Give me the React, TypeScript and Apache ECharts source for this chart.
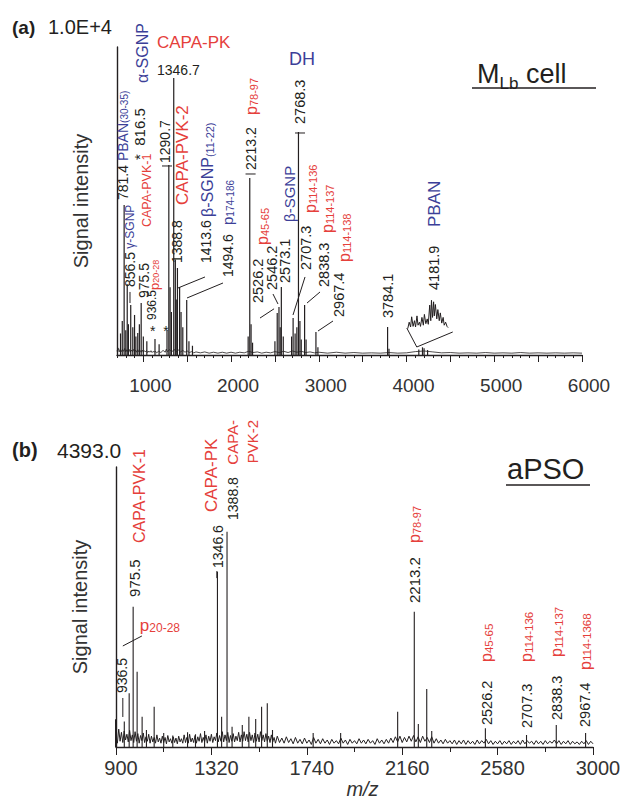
import React, { useEffect, useRef } from "react";
import * as echarts from "echarts";

const RED = "#e5403b";
const BLUE = "#3c3f98";
const INK = "#231f20";
const FONT = "'Liberation Sans', Arial, Helvetica, sans-serif";
const COLORS: Record<string, string> = { k: INK, r: RED, b: BLUE };

// ---------- Panel (a): M_Lb cell ----------
const xRangeA = [700, 6000];
const yMaxA = 10000;
const labelTicksA = [1000, 2000, 3000, 4000, 5000, 6000];
const majorTicksA = [1000, 1500, 2000, 2500, 3000, 3500, 4000, 4500, 5000, 5500, 6000];

const peaksA: [number, number][] = [
  [740, 700], [760, 1100], [781.4, 4870], [800, 800], [816.5, 2300], [830, 1000], [856.5, 1620],
  [880, 900], [900, 1300], [915, 600], [936.5, 714], [955, 1000], [975.5, 1688], [1000, 600],
  [1040, 450], [1133, 520], [1180, 350], [1270, 800], [1290.7, 6170], [1305, 2200], [1320, 1400],
  [1346.7, 8994], [1365, 3100], [1375, 1800], [1388.8, 2825], [1413.6, 2208], [1430, 1400],
  [1450, 900], [1494.6, 1786], [1520, 450], [1560, 300], [2195, 600], [2213.2, 5747], [2228, 1000],
  [2245, 400], [2500, 450], [2526.2, 1364], [2546.2, 1559], [2560, 900], [2573.1, 2208], [2595, 600],
  [2690, 600], [2707.3, 1201], [2730, 700], [2750, 900], [2768.3, 7241], [2785, 1100], [2800, 500],
  [2838.3, 1623], [2855, 500], [2967.4, 747], [2990, 250], [3784.1, 909], [3800, 200],
  [4140, 180], [4181.9, 250], [4200, 220], [4240, 160],
];

const noiseA: [number, number][] = [
  [700, 120], [712, 230], [725, 100], [737, 200], [750, 110], [762, 180], [775, 120], [787, 210],
  [800, 100], [812, 170], [825, 110], [837, 190], [850, 90], [862, 160], [875, 110], [887, 180],
  [900, 100], [912, 160], [925, 90], [937, 170], [950, 100], [962, 150], [975, 90], [987, 160],
  [1000, 90], [1012, 140], [1025, 100], [1037, 150], [1050, 80], [1062, 130], [1075, 90],
  [1087, 140], [1100, 80], [1112, 120], [1125, 90], [1137, 130], [1150, 70], [1175, 120],
  [1200, 80], [1225, 150], [1250, 90], [1262, 190], [1275, 110], [1300, 170], [1325, 100],
  [1350, 180], [1375, 110], [1400, 160], [1425, 100], [1450, 150], [1475, 90], [1500, 130],
  [1525, 80], [1550, 110], [1575, 70], [1600, 100], [1650, 70], [1700, 100], [1750, 60],
  [1800, 90], [1850, 60], [1900, 90], [1950, 60], [2000, 90], [2050, 60], [2100, 90],
  [2150, 70], [2200, 120], [2250, 80], [2300, 100], [2350, 60], [2400, 90], [2450, 70],
  [2500, 110], [2550, 80], [2600, 120], [2650, 80], [2700, 130], [2750, 90], [2800, 120],
  [2850, 80], [2900, 100], [2950, 70], [3000, 90], [3100, 60], [3200, 90], [3300, 60],
  [3400, 80], [3500, 60], [3600, 70], [3700, 60], [3800, 80], [3900, 60], [4000, 70],
  [4100, 110], [4200, 130], [4300, 100], [4400, 70], [4500, 80], [4600, 60], [4700, 70],
  [4800, 60], [4900, 80], [5000, 60], [5100, 70], [5200, 60], [5300, 80], [5400, 60],
  [5500, 70], [5600, 60], [5700, 70], [5800, 60], [5900, 70], [6000, 60],
];

// magnified PBAN trace (inset), relative intensity 0-100
const insetRange = [4120, 4250];
const insetA: [number, number][] = [
  [4125, 5], [4129, 26], [4133, 10], [4136, 44], [4140, 12], [4144, 31], [4147, 10], [4151, 47],
  [4154, 16], [4158, 26], [4161, 12], [4165, 42], [4169, 16], [4172, 52], [4176, 21], [4180, 37],
  [4183, 19], [4187, 83], [4190, 31], [4192, 99], [4195, 42], [4198, 94], [4200, 47], [4203, 85],
  [4207, 37], [4210, 68], [4214, 31], [4217, 57], [4221, 23], [4225, 42], [4228, 16], [4232, 26],
  [4236, 12], [4239, 8],
];

// ---------- Panel (b): aPSO ----------
const xRangeB = [900, 3000];
const yMaxB = 4393.0;
const labelTicksB = [900, 1320, 1740, 2160, 2580, 3000];
const minorTicksB = [900, 1110, 1320, 1530, 1740, 1950, 2160, 2370, 2580, 2790, 3000];

const peaksB: [number, number][] = [
  [898, 435], [936.5, 400], [958, 842], [975.5, 2201], [993, 1181], [1015, 475], [1034, 267],
  [1068, 632], [1110, 220], [1150, 180], [1215, 230], [1250, 200], [1290, 250], [1346.6, 2750],
  [1365, 475], [1388.8, 3378], [1411, 319], [1456, 345], [1485, 475], [1515, 440], [1541, 632],
  [1566, 685], [1589, 267], [1768, 220], [1889, 220], [2140, 554], [2213.2, 2123], [2231, 361],
  [2268, 910], [2290, 250], [2526.2, 293], [2707.3, 188], [2838.3, 345], [2967.4, 220],
];

const noiseB: [number, number][] = [
  [900, 150], [906, 60], [912, 280], [918, 90], [924, 230], [930, 70], [936, 250], [942, 110],
  [948, 200], [954, 80], [960, 260], [966, 100], [972, 190], [978, 70], [984, 240], [990, 90],
  [996, 210], [1002, 60], [1008, 180], [1014, 100], [1020, 220], [1026, 70], [1032, 160],
  [1038, 90], [1044, 200], [1050, 60], [1056, 170], [1062, 80], [1068, 150], [1074, 60],
  [1080, 190], [1086, 80], [1092, 140], [1098, 60], [1104, 170], [1110, 70], [1116, 150],
  [1122, 50], [1128, 180], [1134, 80], [1140, 130], [1146, 60], [1152, 160], [1158, 70],
  [1164, 140], [1170, 50], [1176, 170], [1182, 80], [1188, 130], [1194, 60], [1200, 190],
  [1206, 70], [1212, 150], [1218, 60], [1224, 200], [1230, 80], [1236, 140], [1242, 70],
  [1248, 180], [1254, 60], [1260, 160], [1266, 90], [1272, 210], [1278, 70], [1284, 150],
  [1290, 80], [1296, 190], [1302, 60], [1308, 170], [1314, 90], [1320, 200], [1326, 70],
  [1332, 160], [1338, 100], [1344, 220], [1350, 80], [1356, 180], [1362, 90], [1368, 240],
  [1374, 80], [1380, 190], [1386, 100], [1392, 230], [1398, 70], [1404, 180], [1410, 90],
  [1416, 210], [1422, 80], [1428, 170], [1434, 100], [1440, 230], [1446, 80], [1452, 190],
  [1458, 90], [1464, 240], [1470, 100], [1476, 200], [1482, 80], [1488, 230], [1494, 100],
  [1500, 190], [1506, 70], [1512, 220], [1518, 90], [1524, 200], [1530, 80], [1536, 240],
  [1542, 100], [1548, 190], [1554, 80], [1560, 210], [1566, 90], [1572, 170], [1578, 70],
  [1584, 190], [1590, 80], [1596, 150], [1602, 60], [1610, 170], [1620, 70], [1630, 140],
  [1640, 60], [1650, 160], [1660, 70], [1670, 130], [1680, 50], [1690, 150], [1700, 60],
  [1710, 120], [1720, 50], [1730, 140], [1740, 60], [1750, 110], [1760, 40], [1770, 150],
  [1780, 60], [1790, 120], [1800, 50], [1810, 130], [1820, 60], [1830, 110], [1840, 40],
  [1850, 120], [1860, 60], [1870, 100], [1880, 50], [1890, 140], [1900, 60], [1910, 110],
  [1920, 40], [1930, 120], [1940, 60], [1950, 100], [1960, 50], [1970, 130], [1980, 60],
  [1990, 110], [2000, 50], [2010, 120], [2020, 60], [2030, 100], [2040, 40], [2050, 130],
  [2060, 60], [2070, 110], [2080, 50], [2090, 120], [2100, 60], [2110, 140], [2120, 70],
  [2130, 160], [2140, 80], [2150, 170], [2160, 70], [2170, 150], [2180, 80], [2190, 170],
  [2200, 90], [2210, 180], [2220, 80], [2230, 160], [2240, 70], [2250, 170], [2260, 90],
  [2270, 150], [2280, 70], [2290, 160], [2300, 60], [2310, 130], [2320, 60], [2330, 110],
  [2340, 50], [2350, 120], [2360, 60], [2370, 100], [2380, 50], [2390, 110], [2400, 40],
  [2410, 100], [2420, 50], [2430, 110], [2440, 40], [2450, 100], [2460, 50], [2470, 90],
  [2480, 40], [2490, 110], [2500, 50], [2510, 100], [2520, 60], [2530, 120], [2540, 50],
  [2550, 100], [2560, 40], [2570, 90], [2580, 50], [2590, 100], [2600, 40], [2610, 90],
  [2620, 50], [2630, 100], [2640, 40], [2650, 90], [2660, 50], [2670, 100], [2680, 40],
  [2690, 110], [2700, 50], [2710, 100], [2720, 60], [2730, 90], [2740, 40], [2750, 100],
  [2760, 50], [2770, 90], [2780, 40], [2790, 100], [2800, 50], [2810, 90], [2820, 60],
  [2830, 110], [2840, 50], [2850, 100], [2860, 40], [2870, 90], [2880, 50], [2890, 100],
  [2900, 40], [2910, 90], [2920, 50], [2930, 80], [2940, 40], [2950, 90], [2960, 50],
  [2970, 100], [2980, 40], [2990, 90], [3000, 50],
];

// ---------- annotation layout (anchored in data units) ----------
type Part = [string, string, number, number?];
type Ann = { mz: number; at: number; rot: number; end?: number; parts: Part[] };

const annA: Ann[] = [
  { mz: 985, at: 8832, rot: 1, parts: [["α-SGNP", "b", 16]] },
  { mz: 1156, at: 10131, rot: 0, parts: [["CAPA-PK", "r", 17]] },
  { mz: 1156, at: 9254, rot: 0, parts: [["1346.7", "k", 14]] },
  { mz: 2661, at: 9611, rot: 0, parts: [["DH", "b", 18]] },
  { mz: 768, at: 5033, rot: 1, parts: [["781.4", "k", 14], [" PBAN", "b", 14], ["(30-35)", "b", 10, 1]] },
  { mz: 962, at: 6332, rot: 1, parts: [["*  816.5", "k", 15]] },
  { mz: 1247, at: 6234, rot: 1, parts: [["1290.7", "k", 14]] },
  { mz: 1452, at: 4870, rot: 1, parts: [["CAPA-PVK-2", "r", 17]] },
  { mz: 1737, at: 4481, rot: 1, parts: [["β-SGNP", "b", 16], ["(11-22)", "b", 11, 1]] },
  { mz: 1714, at: 2987, rot: 1, parts: [["1413.6", "k", 14]] },
  { mz: 1965, at: 4221, rot: 1, parts: [["p", "b", 15], ["174-186", "b", 10, 1]] },
  { mz: 1965, at: 2533, rot: 1, parts: [["1494.6", "k", 14]] },
  { mz: 848, at: 2208, rot: 1, parts: [["856.5", "k", 14], [" γ-SGNP", "b", 12]] },
  { mz: 1042, at: 4156, rot: 1, parts: [["CAPA-PVK-1", "r", 12.5]] },
  { mz: 1008, at: 1851, rot: 1, parts: [["975.5", "k", 14]] },
  { mz: 1122, at: 2111, rot: 1, parts: [["p", "r", 13], ["20-28", "r", 9, 1]] },
  { mz: 1099, at: 1136, rot: 1, parts: [["936.5", "k", 12]] },
  { mz: 1076, at: 779, rot: 0, parts: [["*  *", "k", 14]] },
  { mz: 1384, at: 2987, rot: 1, parts: [["1388.8", "k", 14]] },
  { mz: 2228, at: 7793, rot: 1, parts: [["p", "r", 16], ["78-97", "r", 11, 1]] },
  { mz: 2228, at: 6007, rot: 1, parts: [["2213.2", "k", 14]] },
  { mz: 2786, at: 7501, rot: 1, parts: [["2768.3", "k", 14.5]] },
  { mz: 2353, at: 3572, rot: 1, parts: [["p", "r", 16], ["45-65", "r", 11, 1]] },
  { mz: 2307, at: 1688, rot: 1, parts: [["2526.2", "k", 14.5]] },
  { mz: 2467, at: 2111, rot: 1, parts: [["2546.2", "k", 14.5]] },
  { mz: 2615, at: 2338, rot: 1, parts: [["2573.1", "k", 14.5]] },
  { mz: 2661, at: 4319, rot: 1, parts: [["β-SGNP", "b", 15]] },
  { mz: 2900, at: 4611, rot: 1, parts: [["p", "r", 16], ["114-136", "r", 11, 1]] },
  { mz: 2855, at: 2760, rot: 1, parts: [["2707.3", "k", 14.5]] },
  { mz: 3094, at: 3961, rot: 1, parts: [["p", "r", 16], ["114-137", "r", 11, 1]] },
  { mz: 3060, at: 2208, rot: 1, parts: [["2838.3", "k", 14.5]] },
  { mz: 3288, at: 3020, rot: 1, parts: [["p", "r", 16], ["114-138", "r", 11, 1]] },
  { mz: 3231, at: 1234, rot: 1, parts: [["2967.4", "k", 14.5]] },
  { mz: 3789, at: 1201, rot: 1, parts: [["3784.1", "k", 14.5]] },
  { mz: 4314, at: 4156, rot: 1, parts: [["PBAN", "b", 17]] },
  { mz: 4314, at: 2111, rot: 1, parts: [["4181.9", "k", 14.5]] },
];

const leadersA: [number, number, number, number][] = [
  [1703, 2533, 1395, 2175],
  [1908, 2338, 1498, 1851],
  [2843, 2533, 2706, 1299],
  [3014, 2046, 2866, 1688],
  [3162, 1104, 2991, 779],
  [1213, 6137, 1327, 6137],
  [2165, 5877, 2280, 5877],
  [2729, 7208, 2843, 7208],
  [848, 2046, 848, 1688],
  [2330, 1200, 2490, 1500],
  [2478, 1980, 2535, 1656],
  [4003, 877, 4117, 260],
  [4117, 260, 4527, 747],
];

const annB: Ann[] = [
  { mz: 983, at: 2354, rot: 1, parts: [["975.5", "k", 15]] },
  { mz: 1005, at: 3201, rot: 1, parts: [["CAPA-PVK-1", "r", 16]] },
  { mz: 926, at: 847, rot: 1, parts: [["936.5", "k", 14]] },
  { mz: 1005, at: 1914, rot: 0, parts: [["p", "r", 17], ["20-28", "r", 12, 1]] },
  { mz: 1348, at: 2809, rot: 1, parts: [["1346.6", "k", 14]] },
  { mz: 1322, at: 3687, rot: 1, parts: [["CAPA-PK", "r", 17]] },
  { mz: 1415, at: 3562, rot: 1, parts: [["1388.8", "k", 14]] },
  { mz: 1415, at: 5131, rot: 1, end: 1, parts: [["CAPA-", "r", 15]] },
  { mz: 1503, at: 5131, rot: 1, end: 1, parts: [["PVK-2", "r", 15]] },
  { mz: 2216, at: 3201, rot: 1, parts: [["p", "r", 16], ["78-97", "r", 11, 1]] },
  { mz: 2216, at: 2259, rot: 1, parts: [["2213.2", "k", 15]] },
  { mz: 2533, at: 1334, rot: 1, parts: [["p", "r", 16], ["45-65", "r", 11.5, 1]] },
  { mz: 2533, at: 345, rot: 1, parts: [["2526.2", "k", 14.5]] },
  { mz: 2709, at: 1334, rot: 1, parts: [["p", "r", 16], ["114-136", "r", 11.5, 1]] },
  { mz: 2709, at: 298, rot: 1, parts: [["2707.3", "k", 14.5]] },
  { mz: 2841, at: 1412, rot: 1, parts: [["p", "r", 16], ["114-137", "r", 11.5, 1]] },
  { mz: 2841, at: 424, rot: 1, parts: [["2838.3", "k", 14.5]] },
  { mz: 2965, at: 1208, rot: 1, parts: [["p", "r", 16], ["114-1368", "r", 11.5, 1]] },
  { mz: 2965, at: 314, rot: 1, parts: [["2967.4", "k", 14.5]] },
];

const leadersB: [number, number, number, number][] = [
  [930, 769, 930, 471],
  [930, 1585, 1014, 1742],
  [1344, 2760, 1344, 2650],
];

function richText(parts: Part[]) {
  const rich: Record<string, any> = {};
  let text = "";
  parts.forEach((p, i) => {
    const [t, c, fs, sub] = p;
    rich["t" + i] = {
      fill: COLORS[c],
      fontSize: fs,
      fontFamily: FONT,
      verticalAlign: sub ? "bottom" : "middle",
    };
    text += "{t" + i + "|" + t + "}";
  });
  return { text, rich };
}

function stickSeries(data: [number, number][], xi: number, yi: number, width: number) {
  return {
    type: "custom",
    xAxisIndex: xi,
    yAxisIndex: yi,
    silent: true,
    clip: false,
    data,
    renderItem: (_p: any, api: any) => {
      const b = api.coord([api.value(0), 0]);
      const t = api.coord([api.value(0), api.value(1)]);
      return {
        type: "line",
        shape: { x1: b[0], y1: b[1], x2: t[0], y2: t[1] },
        style: { stroke: INK, lineWidth: width },
      };
    },
  };
}

function leaderSeries(data: [number, number, number, number][], xi: number, yi: number) {
  return {
    type: "custom",
    xAxisIndex: xi,
    yAxisIndex: yi,
    silent: true,
    clip: false,
    data,
    renderItem: (_p: any, api: any) => {
      const a = api.coord([api.value(0), api.value(1)]);
      const b = api.coord([api.value(2), api.value(3)]);
      return {
        type: "line",
        shape: { x1: a[0], y1: a[1], x2: b[0], y2: b[1] },
        style: { stroke: INK, lineWidth: 1 },
      };
    },
  };
}

function annSeries(ann: Ann[], xi: number, yi: number) {
  return {
    type: "custom",
    xAxisIndex: xi,
    yAxisIndex: yi,
    silent: true,
    clip: false,
    z: 10,
    data: ann.map((a) => [a.mz, a.at]),
    renderItem: (params: any, api: any) => {
      const a = ann[params.dataIndex];
      const p = api.coord([api.value(0), api.value(1)]);
      const { text, rich } = richText(a.parts);
      const align = a.end ? "right" : "left";
      return {
        type: "text",
        x: p[0],
        y: p[1],
        rotation: a.rot ? Math.PI / 2 : 0,
        style: {
          text,
          rich,
          fill: INK,
          fontFamily: FONT,
          fontSize: 14,
          align,
          textAlign: align,
          verticalAlign: "middle",
          textVerticalAlign: "middle",
        },
      };
    },
  };
}

function noiseSeries(data: [number, number][], xi: number, yi: number, width: number) {
  return {
    type: "line",
    xAxisIndex: xi,
    yAxisIndex: yi,
    data,
    symbol: "none",
    showSymbol: false,
    silent: true,
    lineStyle: { color: INK, width },
  };
}

const axisLine = { show: true, lineStyle: { color: INK, width: 1.4 } };
const plain = (v: number) => String(v);
const tickLabel = { color: "#333", fontSize: 19, fontFamily: FONT, formatter: plain };

function gText(x: number, y: number, text: string, fontSize: number, bold = false) {
  return {
    type: "text",
    x,
    y,
    style: {
      text,
      fill: INK,
      fontSize,
      fontFamily: FONT,
      fontWeight: bold ? "bold" : "normal",
      textVerticalAlign: "middle",
      verticalAlign: "middle",
    },
  };
}

export default function App() {
  const ref = useRef<HTMLDivElement>(null);
  useEffect(() => {
    if (!ref.current) return;
    const chart = echarts.init(ref.current, null, { renderer: "svg" });
    const option: any = {
      animation: false,
      backgroundColor: "#ffffff",
      textStyle: { fontFamily: FONT },
      grid: [
        { left: 117, top: 47, width: 465, height: 308, outerBoundsMode: "none", containLabel: false },
        { left: 116, top: 467, width: 477, height: 280, outerBoundsMode: "none", containLabel: false },
        { left: 406, top: 300, width: 46, height: 30, outerBoundsMode: "none", containLabel: false },
      ],
      xAxis: [
        {
          gridIndex: 0, type: "value", min: xRangeA[0], max: xRangeA[1], interval: 100, position: "bottom",
          axisLine, splitLine: { show: false },
          axisTick: { show: true, length: 3, lineStyle: { color: INK } },
          axisLabel: { ...tickLabel, customValues: labelTicksA, margin: 21, padding: [0, 0, 0, 14] },
        },
        {
          gridIndex: 0, type: "value", min: xRangeA[0], max: xRangeA[1], position: "bottom",
          axisLine: { show: false }, splitLine: { show: false }, axisLabel: { show: false },
          axisTick: { show: true, length: 7, customValues: majorTicksA, lineStyle: { color: INK } },
        },
        {
          gridIndex: 1, type: "value", min: xRangeB[0], max: xRangeB[1], position: "bottom",
          axisLine, splitLine: { show: false },
          axisTick: { show: true, length: 5, customValues: minorTicksB, lineStyle: { color: INK } },
          axisLabel: { ...tickLabel, fontSize: 20, customValues: labelTicksB, margin: 11, padding: [0, 0, 0, 10] },
          name: "m/z", nameLocation: "middle", nameGap: 32,
          nameTextStyle: { fontSize: 20, fontStyle: "italic", color: "#333", fontFamily: FONT, padding: [0, 0, 0, 16] },
        },
        {
          gridIndex: 1, type: "value", min: xRangeB[0], max: xRangeB[1], position: "bottom",
          axisLine: { show: false }, splitLine: { show: false }, axisLabel: { show: false },
          axisTick: { show: true, length: 8, customValues: labelTicksB, lineStyle: { color: INK } },
        },
        {
          gridIndex: 2, type: "value", min: insetRange[0], max: insetRange[1], show: false,
        },
      ],
      yAxis: [
        {
          gridIndex: 0, type: "value", min: 0, max: yMaxA, axisLine, axisTick: { show: false },
          axisLabel: { show: false }, splitLine: { show: false },
          name: "Signal intensity", nameLocation: "middle", nameGap: 26, nameRotate: 90,
          nameTextStyle: { fontSize: 20, color: "#333", fontFamily: FONT },
        },
        {
          gridIndex: 1, type: "value", min: 0, max: yMaxB, axisLine, axisTick: { show: false },
          axisLabel: { show: false }, splitLine: { show: false },
          name: "Signal intensity", nameLocation: "middle", nameGap: 26, nameRotate: 90,
          nameTextStyle: { fontSize: 20, color: "#333", fontFamily: FONT },
        },
        { gridIndex: 2, type: "value", min: 0, max: 100, show: false },
      ],
      series: [
        noiseSeries(noiseA, 0, 0, 0.8),
        stickSeries(peaksA, 0, 0, 1.2),
        leaderSeries(leadersA, 0, 0),
        annSeries(annA, 0, 0),
        {
          type: "line", xAxisIndex: 4, yAxisIndex: 2, data: insetA, symbol: "none", silent: true,
          lineStyle: { color: INK, width: 1 },
        },
        noiseSeries(noiseB, 2, 1, 1),
        stickSeries(peaksB, 2, 1, 1.1),
        leaderSeries(leadersB, 2, 1),
        annSeries(annB, 2, 1),
      ],
      graphic: [
        gText(12, 27, "(a)", 19, true),
        gText(48, 27, "1.0E+4", 20),
        {
          type: "text", x: 477, y: 74,
          style: {
            text: "{m|M}{s|Lb}{m| cell}",
            rich: {
              m: { fontSize: 27, fill: INK, fontFamily: FONT, verticalAlign: "bottom" },
              s: { fontSize: 17, fill: INK, fontFamily: FONT, verticalAlign: "bottom", padding: [0, 0, -4, 0] },
            },
            textVerticalAlign: "middle", verticalAlign: "middle",
          },
        },
        { type: "line", shape: { x1: 472, y1: 88, x2: 596, y2: 88 }, style: { stroke: INK, lineWidth: 1.5 } },
        gText(12, 450, "(b)", 20, true),
        gText(57, 450, "4393.0", 21),
        gText(507, 469, "aPSO", 29),
        { type: "line", shape: { x1: 506, y1: 485, x2: 590, y2: 485 }, style: { stroke: INK, lineWidth: 1.5 } },
      ],
    };
    chart.setOption(option);
    return () => chart.dispose();
  }, []);
  return (
    <div
      ref={ref}
      style={{ position: "fixed", left: 0, top: 0, width: 622, height: 805, background: "#fff" }}
    />
  );
}
